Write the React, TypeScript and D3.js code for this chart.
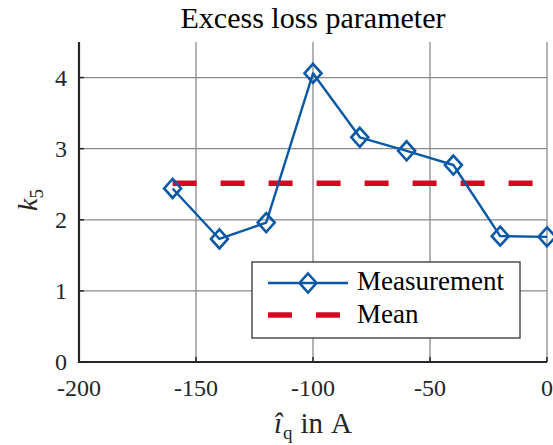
import React from 'react';
import * as d3 from 'd3';

// Data
const currents = [-160, -140, -120, -100, -80, -60, -40, -20, 0];
const k5Values = [2.44, 1.73, 1.96, 4.06, 3.16, 2.97, 2.77, 1.77, 1.76];
const xTicks = [-200, -150, -100, -50, 0];
const yTicks = [0, 1, 2, 3, 4];

const width = 553;
const height = 445;
const margin = { left: 79, right: 6, top: 42, bottom: 83 };

const blue = '#0a58a6';
const red = '#cf0a22';
const font = "'Liberation Serif', 'DejaVu Serif', serif";

function Diamond({ cx, cy }: { cx: number; cy: number }) {
  const w = 8.5;
  const h = 9.5;
  return (
    <path
      d={`M${cx},${cy - h}L${cx + w},${cy}L${cx},${cy + h}L${cx - w},${cy}Z`}
      fill="none"
      stroke={blue}
      strokeWidth={2.6}
    />
  );
}

export default function App() {
  const x = d3.scaleLinear().domain([-200, 0]).range([margin.left, width - margin.right]);
  const y = d3.scaleLinear().domain([0, 4.5]).range([height - margin.bottom, margin.top]);

  const mean = d3.mean(k5Values) ?? 0;
  const line = d3
    .line<number>()
    .x((_, i) => x(currents[i]))
    .y(d => y(d));

  const x0 = x.range()[0];
  const x1 = x.range()[1];
  const yBottom = y(0);
  const yTop = y(4.5);

  // legend box (layout)
  const lg = { x: 252, y: 262, w: 268, h: 76 };
  const ts = { fontFamily: font };

  return (
    <svg
      width={width}
      height={height}
      style={{ position: 'absolute', left: 0, top: 0, background: '#fff', fontFamily: font }}
    >
      <rect width={width} height={height} fill="#fff" />

      {/* grid */}
      {xTicks.filter(t => t !== -200).map(t => (
        <line key={'gx' + t} x1={x(t)} x2={x(t)} y1={yTop} y2={yBottom} stroke="#8a8a8a" strokeWidth={1.3} />
      ))}
      {yTicks.filter(t => t !== 0).map(t => (
        <line key={'gy' + t} x1={x0} x2={x1} y1={y(t)} y2={y(t)} stroke="#8a8a8a" strokeWidth={1.3} />
      ))}

      {/* ticks */}
      {yTicks.map(t => (
        <line key={'ty' + t} x1={x0} x2={x0 + 5} y1={y(t)} y2={y(t)} stroke="#262626" strokeWidth={1.5} />
      ))}
      {xTicks.map(t => (
        <line key={'tx' + t} x1={x(t)} x2={x(t)} y1={yBottom} y2={yBottom - 5} stroke="#262626" strokeWidth={1.5} />
      ))}

      {/* mean */}
      <line
        x1={x(currents[0])}
        x2={x(currents[currents.length - 1])}
        y1={y(mean)}
        y2={y(mean)}
        stroke={red}
        strokeWidth={5.7}
        strokeDasharray="24,24"
      />

      {/* measurement */}
      <path d={line(k5Values) ?? ''} fill="none" stroke={blue} strokeWidth={2.4} strokeLinejoin="round" />
      {k5Values.map((v, i) => (
        <Diamond key={i} cx={x(currents[i])} cy={y(v)} />
      ))}

      {/* axes */}
      <line x1={x0} x2={x0} y1={yTop} y2={yBottom + 1} stroke="#262626" strokeWidth={2.2} />
      <line x1={x0 - 1} x2={x1} y1={yBottom} y2={yBottom} stroke="#262626" strokeWidth={2.2} />

      {/* tick labels */}
      {yTicks.map(t => (
        <text key={'ly' + t} style={ts} x={x0 - 12} y={y(t)} dy="0.35em" textAnchor="end" fontSize={24} fill="#262626">
          {t}
        </text>
      ))}
      {xTicks.map(t => (
        <text key={'lx' + t} style={ts} x={x(t)} y={yBottom + 34} textAnchor="middle" fontSize={24} fill="#262626">
          {t}
        </text>
      ))}

      {/* title */}
      <text style={ts} x={(x0 + x1) / 2} y={28} textAnchor="middle" fontSize={30} fill="#000">
        Excess loss parameter
      </text>

      {/* axis labels */}
      <text style={ts} x={(x0 + x1) / 2} y={433} textAnchor="middle" fontSize={29} fill="#262626">
        <tspan fontStyle="italic">î</tspan>
        <tspan fontSize={19} dy={6} dx={1}>q</tspan>
        <tspan dy={-6} dx={8}>in</tspan>
        <tspan dx={8}>A</tspan>
      </text>
      <text style={ts} transform={`translate(37,200) rotate(-90)`} textAnchor="middle" fontSize={28} fill="#262626">
        <tspan fontStyle="italic">k</tspan>
        <tspan fontSize={19} dy={6}>5</tspan>
      </text>

      {/* legend */}
      <rect x={lg.x} y={lg.y} width={lg.w} height={lg.h} fill="#fff" stroke="#333" strokeWidth={1.3} />
      <line x1={268} x2={348} y1={283} y2={283} stroke={blue} strokeWidth={2.4} />
      <Diamond cx={308} cy={283} />
      <text style={ts} x={357} y={290} fontSize={27} fill="#000">Measurement</text>
      <line x1={268} x2={348} y1={315} y2={315} stroke={red} strokeWidth={5.7} strokeDasharray="24,24" />
      <text style={ts} x={357} y={323} fontSize={27} fill="#000">Mean</text>
    </svg>
  );
}
